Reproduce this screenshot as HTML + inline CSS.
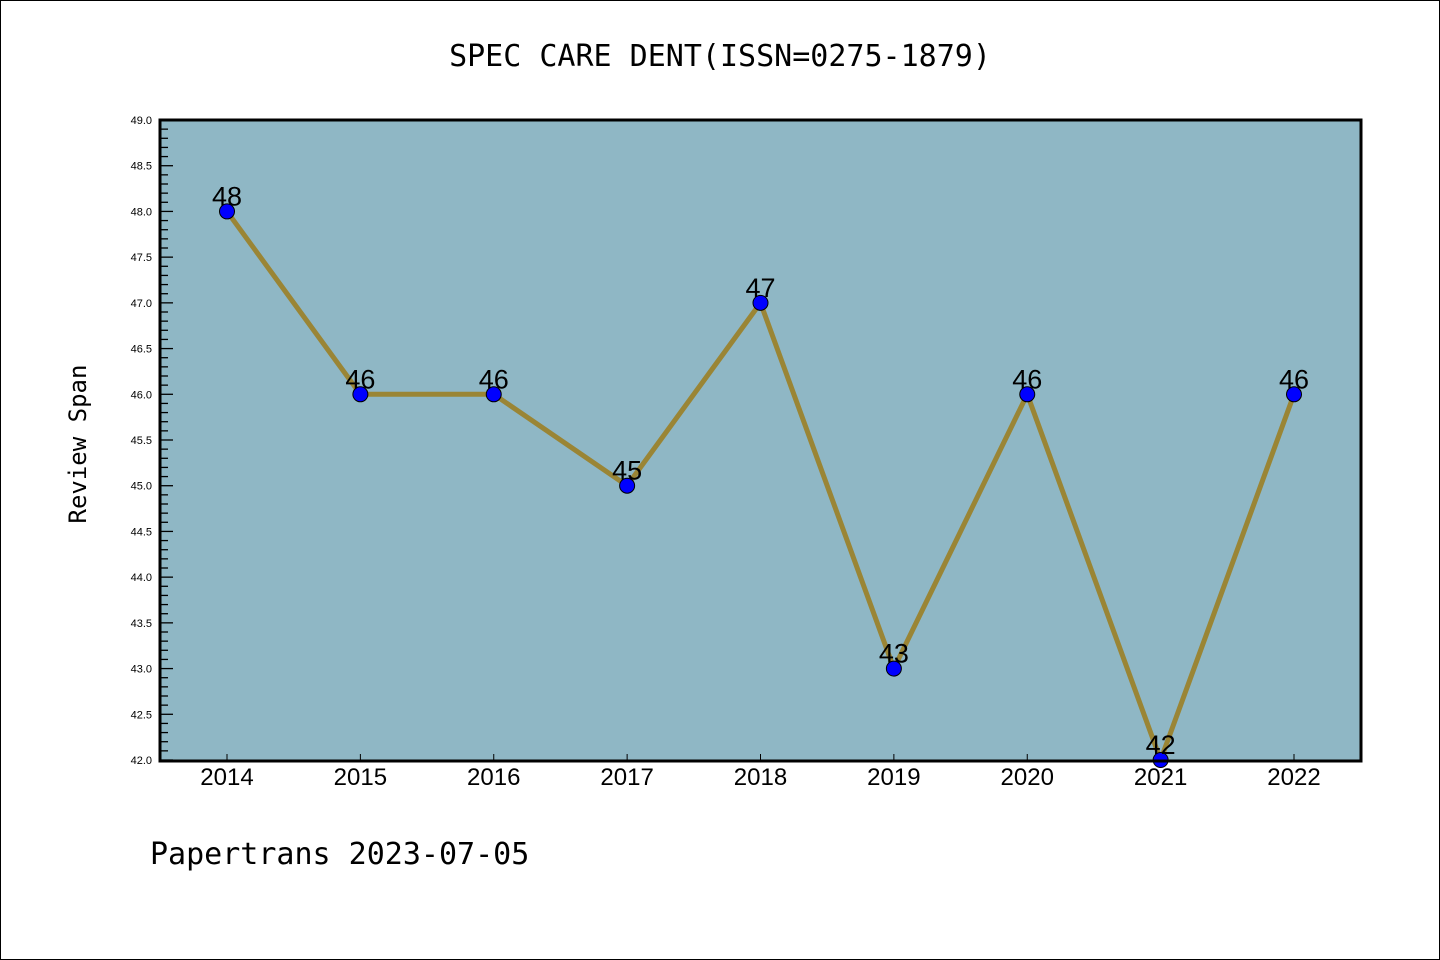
<!DOCTYPE html>
<html><head><meta charset="utf-8"><style>
html,body{margin:0;padding:0;background:#fff}
svg{display:block;font-family:"Liberation Sans","DejaVu Sans",sans-serif}
</style></head><body>
<svg id="chart" width="1440" height="960" viewBox="0 0 1440 960">
<rect x="0.5" y="0.5" width="1439" height="959" fill="#fff" stroke="#000" stroke-width="1"/>
<text x="720" y="66" text-anchor="middle" font-size="30" font-family="DejaVu Sans Mono, Liberation Mono, monospace">SPEC CARE DENT(ISSN=0275-1879)</text>
<rect x="160" y="120" width="1201" height="641" fill="#8fb7c5"/>
<g id="yaxis"></g>
<g id="xaxis"></g>
<g id="series"></g>
<rect x="160" y="120" width="1201" height="641" fill="none" stroke="#000" stroke-width="3"/>
<text x="86" y="444" text-anchor="middle" font-size="24" font-family="DejaVu Sans Mono, Liberation Mono, monospace" transform="rotate(-90 86 444)">Review Span</text>
<text x="150" y="864" font-size="30" font-family="DejaVu Sans Mono, Liberation Mono, monospace">Papertrans 2023-07-05</text>
</svg>
<script>
const categories = ["2014","2015","2016","2017","2018","2019","2020","2021","2022"];
const values = [48,46,46,45,47,43,46,42,46];
const yTicks = [42.0,42.5,43.0,43.5,44.0,44.5,45.0,45.5,46.0,46.5,47.0,47.5,48.0,48.5,49.0];
const NS="http://www.w3.org/2000/svg";
const yMin=42,yMax=49,plotTop=120,plotBot=760,plotLeft=160;
function yPos(v){return plotBot-(v-yMin)/(yMax-yMin)*(plotBot-plotTop);}
function xPos(i){return 227+i*(1294-227)/(categories.length-1);}
function mk(tag,attrs,parent){const e=document.createElementNS(NS,tag);for(const k in attrs)e.setAttribute(k,attrs[k]);parent.appendChild(e);return e;}
const ya=document.getElementById('yaxis'),xa=document.getElementById('xaxis'),sg=document.getElementById('series');
for(let v=yMin*10;v<=yMax*10;v++){
  const major=v%5===0;
  const t=mk('line',{x1:plotLeft,x2:plotLeft+(major?13:8),y1:yPos(v/10),y2:yPos(v/10),stroke:'#000','stroke-width':1.3},ya);
  
  
}
yTicks.forEach(v=>{
  const t=mk('text',{x:152,y:yPos(v)+4,'text-anchor':'end','font-size':11},ya);
  t.textContent=v.toFixed(1);
  
  
});
categories.forEach((c,i)=>{
  const tk=mk('line',{x1:xPos(i),x2:xPos(i),y1:plotBot,y2:plotBot-6,stroke:'#000','stroke-width':1},xa);
  
  
  const t=mk('text',{x:xPos(i),y:785,'text-anchor':'middle','font-size':24},xa);
  t.textContent=c;
  
  
});
const pl=mk('polyline',{points:values.map((v,i)=>xPos(i)+','+yPos(v)).join(' '),fill:'none',stroke:'#9a8535','stroke-width':5,'stroke-linejoin':'round'},sg);


values.forEach((v,i)=>{
  const c=mk('circle',{cx:xPos(i),cy:yPos(v),r:7.5,fill:'#0000ff',stroke:'#000','stroke-width':1},sg);
  
  
  const t=mk('text',{x:xPos(i),y:yPos(v)-6,'text-anchor':'middle','font-size':27},sg);
  t.textContent=v;
  
  
});
</script>
</body></html>
